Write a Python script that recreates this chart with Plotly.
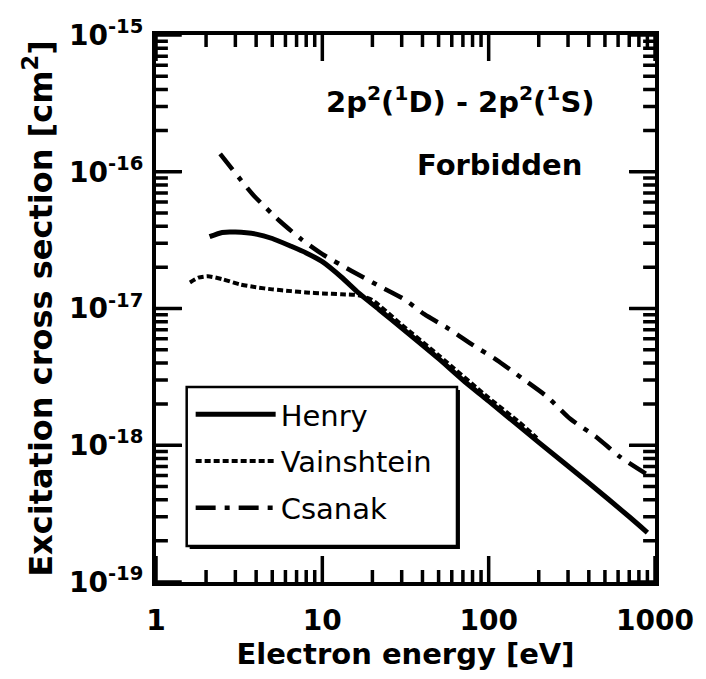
import math
import plotly.graph_objects as go

# ---------------- data ----------------
henry_E = [2.1, 2.5, 3.0, 4.0, 5.0, 6.5, 8.0, 10, 13, 16.5, 22, 30, 50, 70, 100, 200, 400, 700, 900]
henry_S = [3.35e-17, 3.6e-17, 3.62e-17, 3.5e-17, 3.25e-17, 2.85e-17, 2.55e-17, 2.2e-17, 1.7e-17,
           1.3e-17, 9.8e-18, 7.2e-18, 4.3e-18, 3.0e-18, 2.1e-18, 1.05e-18, 5.3e-19, 3.0e-19, 2.3e-19]

vain_E = [1.6, 1.8, 2.05, 2.5, 3.2, 4.0, 5.0, 6.5, 8.0, 10, 13, 16.5, 20, 30, 50, 100, 150, 195]
vain_S = [1.55e-17, 1.68e-17, 1.72e-17, 1.64e-17, 1.5e-17, 1.43e-17, 1.38e-17, 1.34e-17, 1.31e-17,
          1.29e-17, 1.27e-17, 1.25e-17, 1.15e-17, 7.6e-18, 4.55e-18, 2.22e-18, 1.5e-18, 1.13e-18]

csan_E = [2.43, 3.83, 5.5, 7.5, 10, 15, 22, 31, 41, 57.6, 80.5, 112, 158, 226, 309, 443, 618, 880]
csan_S = [1.35e-16, 6.8e-17, 4.4e-17, 3.2e-17, 2.5e-17, 1.88e-17, 1.46e-17, 1.17e-17, 9.1e-18,
          7.1e-18, 5.4e-18, 4.2e-18, 3.1e-18, 2.25e-18, 1.56e-18, 1.15e-18, 8.2e-19, 6.2e-19]

x_ticks = [1, 10, 100, 1000]
x_ticktext = ["1", "10", "100", "1000"]
y_ticks = [1e-19, 1e-18, 1e-17, 1e-16, 1e-15]
y_ticktext = ["10<sup>-19</sup>", "10<sup>-18</sup>", "10<sup>-17</sup>", "10<sup>-16</sup>", "10<sup>-15</sup>"]
x_minor = [k * d for d in (1, 10, 100) for k in range(2, 10)]
y_minor = [float("%de%d" % (k, e)) for e in (-19, -18, -17, -16) for k in range(2, 10)]

series_names = ["Henry", "Vainshtein", "Csanak"]

X_RANGE = [0, 3]      # log10 of 1 .. 1000
Y_RANGE = [-19, -15]  # log10 of 1e-19 .. 1e-15

# ---------------- figure ----------------
BOLD = "DejaVu Sans"
fig = go.Figure()

fig.add_trace(go.Scatter(x=henry_E, y=henry_S, mode="lines", name=series_names[0],
                         line=dict(color="black", width=5, shape="spline", smoothing=0.6),
                         legendgroup="a"))
fig.add_trace(go.Scatter(x=vain_E, y=vain_S, mode="lines", name=series_names[1],
                         line=dict(color="black", width=4, dash="6px,3px", shape="spline", smoothing=0.6),
                         legendgroup="b"))
fig.add_trace(go.Scatter(x=csan_E, y=csan_S, mode="lines", name=series_names[2],
                         line=dict(color="black", width=4.5, dash="20px,9px,5px,9px", shape="spline", smoothing=0.6),
                         legendgroup="c"))

TF = dict(family=BOLD, size=28, color="black", weight="bold")
axis_common = dict(type="log", showgrid=False, zeroline=False,
                   showline=True, linewidth=4, linecolor="black", mirror="allticks",
                   ticks="inside", ticklen=26, tickwidth=3, tickcolor="#000000", tickfont=TF)

PLOT_W, PLOT_H = 504.0, 547.0

def px_x(p):
    return (p - 156) / PLOT_W

def px_y(p):
    return (582 - p) / PLOT_H

def frac(v, rng):
    return (math.log10(v) - rng[0]) / (rng[1] - rng[0])

# inside tick marks on all four sides (major 26 px, minor 12 px), one path per size
def tick_path(xvals, yvals, length):
    segs = []
    h = length / PLOT_H
    w = length / PLOT_W
    for v in xvals:
        f = frac(v, X_RANGE)
        segs.append("M%.5f,0L%.5f,%.5f" % (f, f, h))
        segs.append("M%.5f,1L%.5f,%.5f" % (f, f, 1 - h))
    for v in yvals:
        f = frac(v, Y_RANGE)
        segs.append("M0,%.5fL%.5f,%.5f" % (f, w, f))
        segs.append("M1,%.5fL%.5f,%.5f" % (f, 1 - w, f))
    return "".join(segs)

tick_shapes = [
    dict(type="path", xref="paper", yref="paper", layer="above",
         path=tick_path(x_ticks, y_ticks, 26), line=dict(color="black", width=3.5)),
    dict(type="path", xref="paper", yref="paper", layer="above",
         path=tick_path(x_minor, y_minor, 12), line=dict(color="black", width=3.5)),
]

# legend frame with drop shadow (pixel box 187-460 x 387-546)
legend_shapes = [
    dict(type="rect", xref="paper", yref="paper", layer="above",
         x0=px_x(190), x1=px_x(463), y0=px_y(549), y1=px_y(390),
         fillcolor="black", line=dict(width=0)),
    dict(type="rect", xref="paper", yref="paper", layer="above",
         x0=px_x(187), x1=px_x(460), y0=px_y(546), y1=px_y(387),
         fillcolor="white", line=dict(color="black", width=2.5)),
]

fig.update_layout(
    width=706, height=679,
    margin=dict(l=156, r=46, t=35, b=97),
    paper_bgcolor="white", plot_bgcolor="white",
    xaxis=dict(range=X_RANGE, tickvals=x_ticks, ticktext=x_ticktext, ticklabelstandoff=10,
               title=dict(text="Electron energy [eV]", standoff=0,
                          font=dict(family=BOLD, size=29, color="black", weight="bold")),
               **axis_common),
    yaxis=dict(range=Y_RANGE, tickvals=y_ticks, ticktext=y_ticktext, ticklabelstandoff=3,
               title=dict(text="Excitation cross section [cm<sup>2</sup>]", standoff=8,
                          font=dict(family=BOLD, size=32, color="black", weight="bold")),
               **axis_common),
    legend=dict(x=px_x(191), y=px_y(389), xanchor="left", yanchor="top",
                bgcolor="rgba(0,0,0,0)", borderwidth=0,
                font=dict(family="DejaVu Sans", size=29, color="black"),
                itemwidth=80, tracegroupgap=6),
    showlegend=True,
    shapes=tick_shapes + legend_shapes,
    annotations=[
        dict(text="2p<sup>2</sup>(<sup>1</sup>D) - 2p<sup>2</sup>(<sup>1</sup>S)",
             x=0.611, y=0.881, xref="paper", yref="paper", showarrow=False,
             xanchor="center", yanchor="middle",
             font=dict(family=BOLD, size=29, color="black", weight="bold")),
        dict(text="Forbidden", x=0.688, y=0.762, xref="paper", yref="paper", showarrow=False,
             xanchor="center", yanchor="middle",
             font=dict(family=BOLD, size=29, color="black", weight="bold")),
    ],
)

fig.write_html("out.html")
